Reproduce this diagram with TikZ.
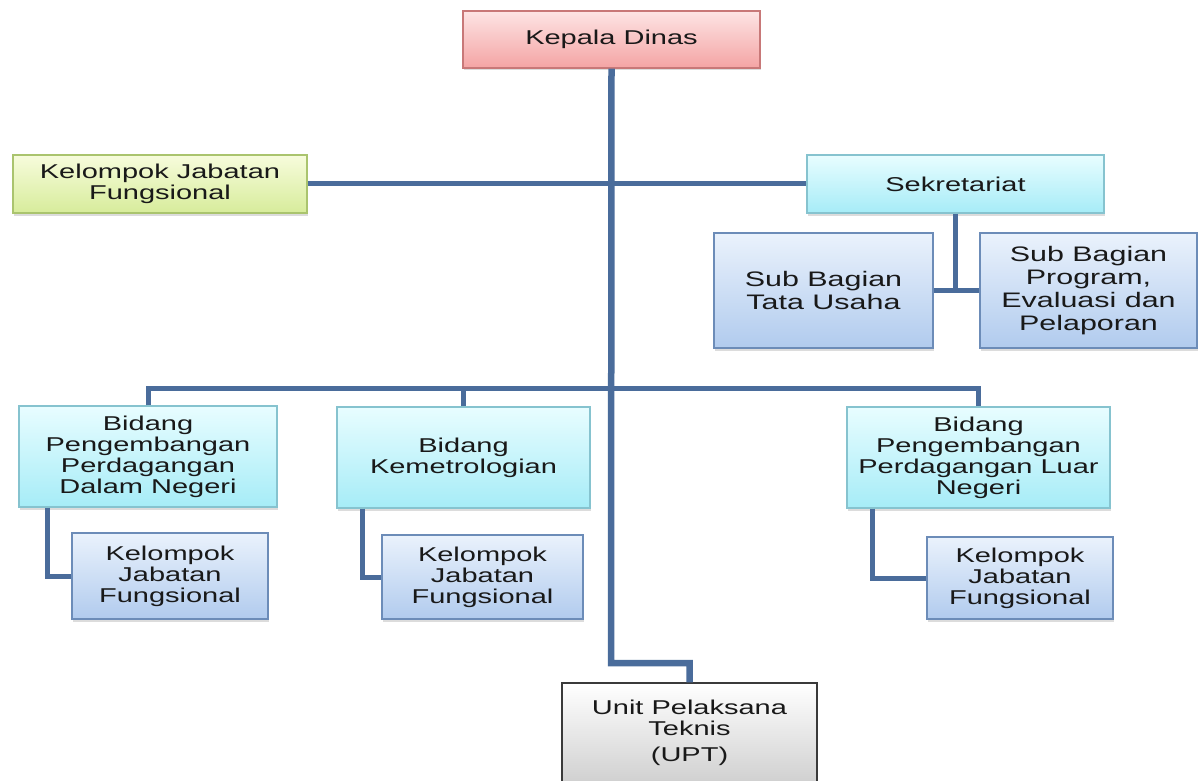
\documentclass[tikz,border=0pt]{standalone}
\usepackage{fontspec}
\setmainfont{Liberation Sans}[FakeStretch=1.45]
\usetikzlibrary{shadows}
\definecolor{linec}{RGB}{74,108,155}
\definecolor{kdtop}{RGB}{253,228,228}
\definecolor{kdbot}{RGB}{244,164,164}
\definecolor{kdline}{RGB}{200,120,120}
\definecolor{ygtop}{RGB}{247,252,220}
\definecolor{ygbot}{RGB}{215,236,155}
\definecolor{ygline}{RGB}{170,196,110}
\definecolor{cytop}{RGB}{232,253,255}
\definecolor{cybot}{RGB}{166,236,247}
\definecolor{cyline}{RGB}{134,195,207}
\definecolor{bltop}{RGB}{234,242,252}
\definecolor{blbot}{RGB}{177,203,238}
\definecolor{blline}{RGB}{108,140,184}
\definecolor{grtop}{RGB}{255,255,255}
\definecolor{grbot}{RGB}{208,208,208}
\definecolor{grline}{RGB}{58,58,58}
\begin{document}
\begin{tikzpicture}[x=1pt,y=-1pt,
  box/.style={rectangle, draw, line width=1.2pt, align=center, inner sep=2pt,
    font=\fontsize{20}{21}\selectfont, text=black!90,
    drop shadow={opacity=0.28, shadow xshift=1pt, shadow yshift=-2.5pt}},
  pinkbox/.style={box, draw=kdline, top color=kdtop, bottom color=kdbot},
  greenbox/.style={box, draw=ygline, top color=ygtop, bottom color=ygbot},
  cyanbox/.style={box, draw=cyline, top color=cytop, bottom color=cybot},
  bluebox/.style={box, draw=blline, top color=bltop, bottom color=blbot},
  graybox/.style={box, draw=grline, top color=grtop, bottom color=grbot},
  bigtext/.style={font=\fontsize{21}{23}\selectfont},
  conn/.style={draw=linec, line width=5pt},
  trunk/.style={draw=linec, line width=6.5pt}
]
\useasboundingbox (0,0) rectangle (1200,781);
\clip (0,0) rectangle (1200,781);

\node[pinkbox, minimum width=297pt, minimum height=57pt] (kd) at (611.5,39.5) {Kepala Dinas};
\node[greenbox, minimum width=294pt, minimum height=58pt] (kjf) at (160,184) {Kelompok Jabatan\\Fungsional};
\node[cyanbox, minimum width=297pt, minimum height=58pt] (sek) at (955.5,184) {Sekretariat};
\node[bluebox, bigtext, minimum width=219pt, minimum height=115pt] (tu) at (823.5,290.5) {Sub Bagian\\Tata Usaha};
\node[bluebox, bigtext, minimum width=217pt, minimum height=115pt] (prog) at (1088.5,290.5) {Sub Bagian\\Program,\\Evaluasi dan\\Pelaporan};

\node[cyanbox, minimum width=258pt, minimum height=101pt] (b1) at (148,456.5) {Bidang\\Pengembangan\\Perdagangan\\Dalam Negeri};
\node[cyanbox, minimum width=253pt, minimum height=101pt] (b2) at (463.5,457.5) {Bidang\\Kemetrologian};
\node[cyanbox, minimum width=263pt, minimum height=101pt] (b3) at (978.5,457.5) {Bidang\\Pengembangan\\Perdagangan Luar\\Negeri};

\node[bluebox, minimum width=196pt, minimum height=86pt] (k1) at (170,576) {Kelompok\\Jabatan\\Fungsional};
\node[bluebox, minimum width=201pt, minimum height=84pt] (k2) at (482.5,577) {Kelompok\\Jabatan\\Fungsional};
\node[bluebox, minimum width=186pt, minimum height=82pt] (k3) at (1020,578) {Kelompok\\Jabatan\\Fungsional};

\node[graybox, minimum width=255pt, minimum height=100pt] (upt) at (689.5,733) {Unit Pelaksana\\Teknis\\[5pt](UPT)};

\coordinate (bus) at (611,388);
\coordinate (jog) at (611,663);

% connectors
\draw[conn] (kjf.east) -- (sek.west);
\draw[conn] (sek.south) -- (sek.south |- tu.east);
\draw[conn] (tu.east) -- (prog.west);
\draw[conn] (b1.north) -- (b1.north |- bus) -- (b3.north |- bus) -- (b3.north);
\draw[conn] (b2.north) -- (b2.north |- bus);
\draw[conn] ([xshift=29pt]b1.south west) |- (k1.west);
\draw[conn] ([xshift=26pt]b2.south west) |- (k2.west);
\draw[conn] ([xshift=26pt]b3.south west) |- (k3.west);
\draw[trunk] (kd.south) -- (jog) -- (jog -| upt.north) -- (upt.north);
\end{tikzpicture}
\end{document}
